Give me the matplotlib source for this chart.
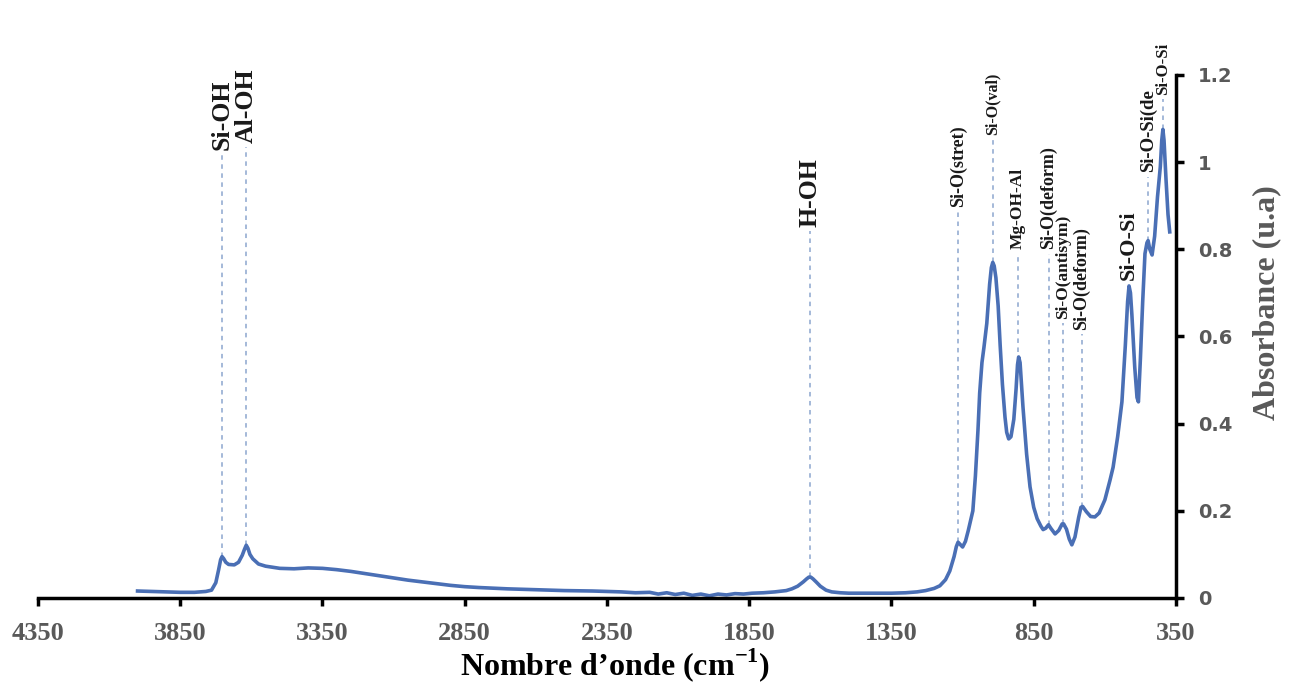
"""FTIR absorbance spectrum with band assignments (reversed wavenumber axis)."""
import matplotlib
matplotlib.use("Agg")
import matplotlib.pyplot as plt
import numpy as np

plt.rcParams["mathtext.fontset"] = "custom"
plt.rcParams["mathtext.bf"] = "Liberation Serif:bold"
plt.rcParams["mathtext.rm"] = "Liberation Serif:bold"

# spectrum (cm-1, absorbance u.a)
wavenumber = [4000, 3950, 3900, 3850, 3800, 3760, 3740, 3725, 3715, 3708, 3703, 3697, 3690,
              3680, 3660, 3645, 3632, 3624, 3618, 3612, 3605, 3595, 3575, 3550, 3500, 3450,
              3400, 3350, 3300, 3250, 3200, 3150, 3100, 3050, 3000, 2950, 2900, 2850, 2800,
              2700, 2600, 2500, 2400, 2300, 2250, 2200, 2170, 2140, 2110, 2080, 2050, 2020,
              1990, 1960, 1930, 1900, 1870, 1840, 1800, 1760, 1720, 1700, 1680, 1660,
              1648, 1640, 1634, 1626, 1615, 1600, 1580, 1560, 1530, 1500, 1450, 1400, 1350,
              1300, 1260, 1230, 1200, 1180, 1160, 1145, 1130, 1122, 1116, 1110, 1100, 1090,
              1080, 1064, 1055, 1046, 1040, 1032, 1025, 1015, 1005, 999, 994, 989, 983, 975,
              968, 960, 951, 945, 938, 930, 920, 912, 907, 903, 898, 888, 875,
              863, 850, 838, 825, 817, 808, 798, 790, 775, 762, 750, 745, 735,
              725, 716, 705, 692, 684, 678, 665, 650, 635, 620, 600, 582, 571,
              555, 540, 528, 520, 515, 510, 505, 495, 487, 482, 475, 467, 459, 452, 448,
              442, 434, 425, 415, 405, 400, 396, 392, 385, 378, 372]
absorbance = [0.016, 0.015, 0.014, 0.013, 0.013, 0.015, 0.018, 0.035, 0.065, 0.088, 0.095, 0.090, 0.082,
              0.077, 0.076, 0.082, 0.098, 0.112, 0.121, 0.114, 0.100, 0.090, 0.078, 0.073, 0.068, 0.067,
              0.069, 0.068, 0.065, 0.061, 0.056, 0.051, 0.046, 0.041, 0.037, 0.033, 0.029, 0.026, 0.024,
              0.021, 0.019, 0.017, 0.016, 0.014, 0.012, 0.013, 0.009, 0.012, 0.008, 0.011, 0.006, 0.009,
              0.005, 0.009, 0.007, 0.010, 0.009, 0.011, 0.012, 0.014, 0.017, 0.021, 0.027, 0.037,
              0.044, 0.048, 0.048, 0.044, 0.037, 0.027, 0.018, 0.014, 0.012, 0.011, 0.011, 0.011, 0.011,
              0.012, 0.014, 0.017, 0.022, 0.028, 0.042, 0.062, 0.095, 0.118, 0.128, 0.124, 0.117, 0.130,
              0.155, 0.200, 0.280, 0.385, 0.470, 0.540, 0.575, 0.630, 0.720, 0.758, 0.770, 0.762, 0.735, 0.670,
              0.580, 0.490, 0.415, 0.380, 0.365, 0.370, 0.410, 0.480, 0.535, 0.553, 0.540, 0.440, 0.330,
              0.255, 0.208, 0.182, 0.165, 0.157, 0.160, 0.168, 0.160, 0.147, 0.155, 0.170, 0.170, 0.158,
              0.135, 0.122, 0.140, 0.185, 0.208, 0.210, 0.198, 0.187, 0.186, 0.195, 0.225, 0.270, 0.300,
              0.370, 0.450, 0.580, 0.680, 0.716, 0.700, 0.650, 0.530, 0.460, 0.450, 0.550, 0.680, 0.790, 0.815, 0.820,
              0.800, 0.787, 0.830, 0.920, 0.990, 1.050, 1.075, 1.050, 0.960, 0.880, 0.840]

# band assignments
band_names = ["Si-OH", "Al-OH", "H-OH", "Si-O(stret)", "Si-O(val)", "Mg-OH-Al",
              "Si-O(deform)", "Si-O(antisym)", "Si-O(deform)", "Si-O-Si", "Si-O-Si(de", "Si-O-Si"]
band_pos = [3703, 3618, 1637, 1116, 994, 905, 798, 748, 682, 517, 448, 396]

# label layout (bottom of rotated text, in absorbance units) and font size
label_bottom = [1.028, 1.044, 0.851, 0.897, 1.062, 0.800, 0.800, 0.640, 0.615, 0.730, 0.977, 1.154]
label_size = [18.5, 18.5, 18.5, 13, 11.5, 12.5, 13, 12.5, 13, 16, 13.5, 12]

x_ticks = [4350, 3850, 3350, 2850, 2350, 1850, 1350, 850, 350]
y_ticks = [0, 0.2, 0.4, 0.6, 0.8, 1.0, 1.2]
y_ticklabels = ["0", "0.2", "0.4", "0.6", "0.8", "1", "1.2"]

GRAY = "#595959"
BLUE = "#4a6fb5"

fig = plt.figure(figsize=(12.92, 6.91), dpi=100)
ax = fig.add_axes([0.0294, 0.1346, 0.8808, 0.7569])

ax.plot(wavenumber, absorbance, color=BLUE, lw=2.6, solid_joinstyle="round")

wn_sorted = np.array(wavenumber[::-1])
ab_sorted = np.array(absorbance[::-1])
for name, pos, yb, fs in zip(band_names, band_pos, label_bottom, label_size):
    peak = np.interp(pos, wn_sorted, ab_sorted)
    ax.plot([pos, pos], [peak, yb - 0.01], color="#9db3d6", lw=1.3,
            linestyle=(0, (2.5, 2.5)), zorder=1, clip_on=False)
    ax.text(pos, yb, name, rotation=90, ha="center", va="bottom", fontsize=fs,
            fontweight="bold", family="Liberation Serif", color="#1a1a1a", clip_on=False)

ax.set_xlim(4350, 350)
ax.set_ylim(0, 1.2)
ax.set_xticks(x_ticks)
ax.set_xticklabels([str(t) for t in x_ticks])
ax.set_yticks(y_ticks)
ax.set_yticklabels(y_ticklabels)

ax.yaxis.tick_right()
ax.yaxis.set_label_position("right")
for s in ("top", "left"):
    ax.spines[s].set_visible(False)
for s in ("bottom", "right"):
    ax.spines[s].set_linewidth(2.5)
    ax.spines[s].set_color("black")

ax.tick_params(axis="x", direction="out", length=6, width=2.5, pad=11, labelcolor=GRAY)
ax.tick_params(axis="y", direction="out", length=6, width=2.5, pad=10, labelcolor=GRAY)
for lab in ax.get_xticklabels():
    lab.set_family("Liberation Serif")
    lab.set_fontweight("bold")
    lab.set_fontsize(19)
for lab in ax.get_yticklabels():
    lab.set_family("DejaVu Sans")
    lab.set_fontweight("bold")
    lab.set_fontsize(14)

ax.set_xlabel("Nombre d\u2019onde (cm$^{\\mathbf{-1}}$)", fontsize=23, fontweight="bold",
              family="Liberation Serif", color="black")
ax.xaxis.set_label_coords(0.507, -0.093)
ax.set_ylabel("Absorbance (u.a)", fontsize=23, fontweight="bold",
              family="Liberation Serif", color=GRAY)
ax.yaxis.set_label_coords(1.067, 0.565)

fig.savefig("out.png", dpi=100)
